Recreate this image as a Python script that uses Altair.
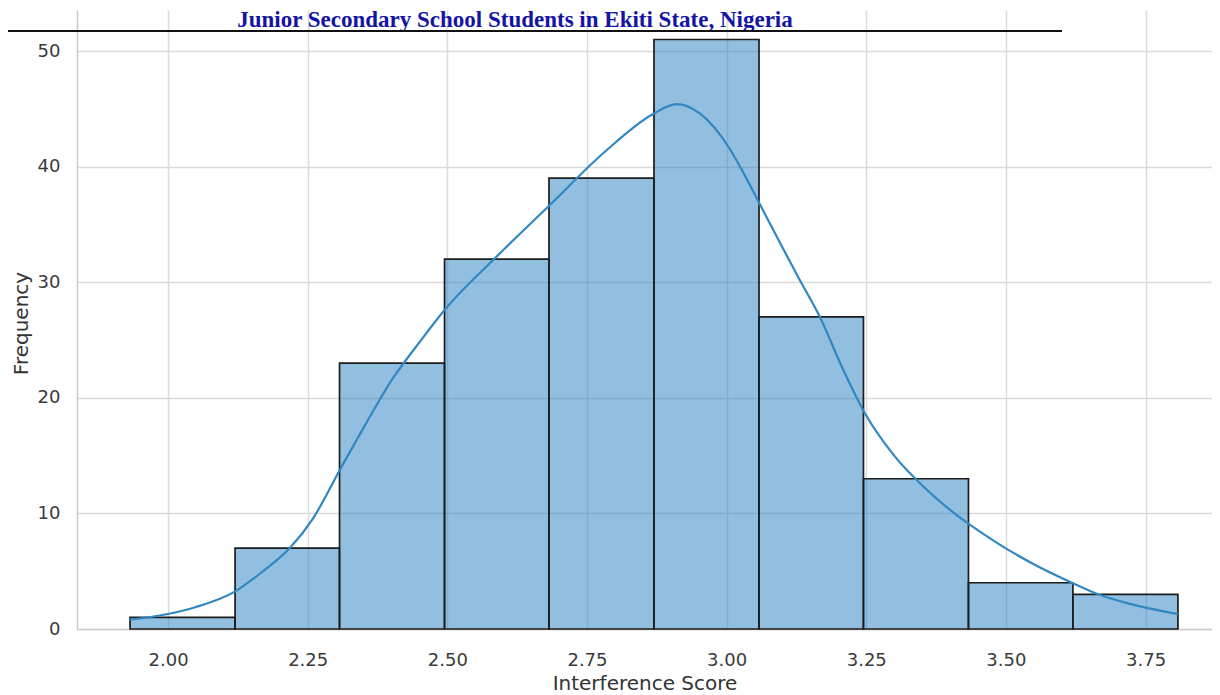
import altair as alt
import pandas as pd

# ---- data ----
bin_left = [1.932, 2.120, 2.307, 2.495, 2.682, 2.870, 3.058, 3.245, 3.433, 3.620]
bin_right = [2.120, 2.307, 2.495, 2.682, 2.870, 3.058, 3.245, 3.433, 3.620, 3.808]
counts = [1, 7, 23, 32, 39, 51, 27, 13, 4, 3]

kde_x = [1.932, 2.00, 2.05, 2.122, 2.17, 2.218, 2.26, 2.308, 2.35, 2.40, 2.45, 2.495,
         2.59, 2.684, 2.78, 2.870, 2.91, 2.952, 3.006, 3.024, 3.06, 3.10, 3.131,
         3.167, 3.21, 3.246, 3.30, 3.355, 3.40, 3.436, 3.489, 3.55, 3.618, 3.665,
         3.72, 3.808]
kde_y = [0.8, 1.3, 1.9, 3.3, 5.0, 7.0, 9.6, 13.8, 17.4, 21.5, 24.8, 27.6,
         32.3, 36.7, 41.2, 44.6, 45.4, 44.6, 41.5, 40.0, 36.7, 33.0, 30.2,
         27.0, 22.3, 18.8, 15.0, 12.2, 10.3, 9.0, 7.3, 5.6, 4.0, 3.0,
         2.2, 1.3]

x_ticks = [2.0, 2.25, 2.5, 2.75, 3.0, 3.25, 3.5, 3.75]
y_ticks = [0, 10, 20, 30, 40, 50]
x_title = "Interference Score"
y_title = "Frequency"
title_text = "Junior Secondary School Students in Ekiti State, Nigeria"

bars_df = pd.DataFrame({"x": bin_left, "x2": bin_right, "y": counts})
kde_df = pd.DataFrame({"x": kde_x, "y": kde_y})

W, H = 1135, 619
FONT = "DejaVu Sans"

x_scale = alt.Scale(domain=[1.837, 3.869], nice=False, zero=False)
y_scale = alt.Scale(domain=[0, 53.55], nice=False)

x_axis = alt.Axis(values=x_ticks, format=".2f", title=x_title, grid=True,
                  ticks=False, tickSize=0, labelPadding=36,
                  labelBaseline="alphabetic", titleY=60,
                  titleBaseline="alphabetic", domain=True)
y_axis = alt.Axis(values=y_ticks, title=y_title, grid=True, ticks=False,
                  tickSize=0, labelPadding=17, titleX=-50, titleY=313,
                  titleAngle=270, titleAlign="center",
                  titleBaseline="alphabetic", domain=True)

bars = alt.Chart(bars_df).mark_rect(
    fill="#267fc0", fillOpacity=0.5, stroke="#1c1c1c", strokeWidth=1.7
).encode(
    x=alt.X("x:Q", scale=x_scale, axis=x_axis),
    x2="x2:Q",
    y=alt.Y("y:Q", scale=y_scale, axis=y_axis),
    y2=alt.datum(0),
)

kde = alt.Chart(kde_df).mark_line(
    color="#3088c3", strokeWidth=2.2, interpolate="monotone"
).encode(
    x=alt.X("x:Q", scale=x_scale, axis=x_axis),
    y=alt.Y("y:Q", scale=y_scale, axis=y_axis),
)

title = alt.Chart(pd.DataFrame({"t": [title_text]})).mark_text(
    font="Liberation Serif", fontWeight="bold", fontSize=23, color="#1414a4",
    align="center", baseline="alphabetic"
).encode(
    x=alt.value(438), y=alt.value(17), text="t:N"
)

rule = alt.Chart(pd.DataFrame({"a": [0]})).mark_rule(
    color="#111111", strokeWidth=2
).encode(
    x=alt.value(-69), x2=alt.value(985), y=alt.value(21)
)

chart = alt.layer(bars, kde, title, rule).properties(
    width=W, height=H,
    autosize=alt.AutoSizeParams(type="none"),
    padding={"left": 69, "top": 2, "right": 0, "bottom": 66},
    background="white",
).configure_view(
    strokeWidth=0
).configure_axis(
    gridColor="#dadada", gridWidth=1.5,
    domainColor="#cccccc", domainWidth=1.5,
    labelFont=FONT, labelFontSize=18, labelColor="#3a3a3a",
    titleFont=FONT, titleFontSize=20, titleFontWeight="normal",
    titleColor="#333333",
)

chart.save("out.html", embed_options={"renderer": "svg", "actions": False})
